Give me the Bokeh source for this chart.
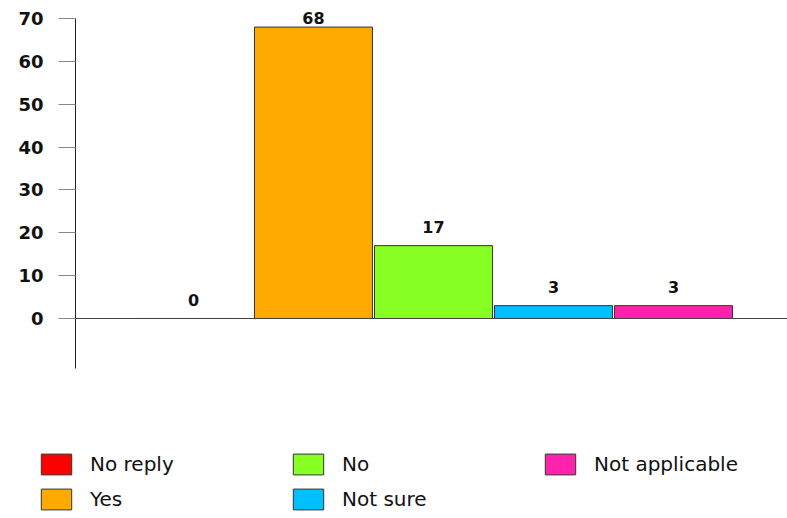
from bokeh.plotting import figure
from bokeh.models import ColumnDataSource, Range1d, FixedTicker, LinearAxis
from bokeh.core.properties import value
from bokeh.embed import file_html
from bokeh.resources import INLINE
import numpy as np

categories = ["No reply", "Yes", "No", "Not sure", "Not applicable"]
counts = [0, 68, 17, 3, 3]
colors = ["#FF0000", "#FFAA00", "#88FF22", "#00BFFF", "#FF22AA"]
y_ticks = [0, 10, 20, 30, 40, 50, 60, 70]

xs = list(range(len(categories)))
vals = np.array(counts, dtype=float)
label_y = np.minimum(vals + 4.4, 70.2)

src = ColumnDataSource(dict(x=xs, top=counts, cat=categories, color=colors,
                            ly=label_y, lbl=[str(c) for c in counts]))

X_AXIS_POS = -0.983
p = figure(width=787, height=518, output_backend="svg", toolbar_location=None,
           x_range=Range1d(-1.608, 4.95), y_range=Range1d(-46.67, 74.2),
           x_axis_location=None, y_axis_location=None,
           min_border_left=0, min_border_right=0, min_border_top=0, min_border_bottom=0)
p.outline_line_color = None
p.grid.visible = False

ax = LinearAxis(fixed_location=X_AXIS_POS, bounds=(-11.67, 70))
ax.ticker = FixedTicker(ticks=y_ticks)
ax.major_tick_out = 17
ax.major_tick_in = 0
ax.minor_tick_line_color = None
ax.major_tick_line_color = "#888888"
ax.axis_line_color = "#222222"
ax.major_label_standoff = 15
ax.major_label_text_font = "DejaVu Sans"
ax.major_label_text_font_style = "bold"
ax.major_label_text_font_size = "18px"
ax.major_label_text_color = "#111111"
p.add_layout(ax, "left")

xax = LinearAxis(fixed_location=0, bounds=(X_AXIS_POS, 4.95))
xax.ticker = FixedTicker(ticks=[])
xax.major_tick_line_color = None
xax.minor_tick_line_color = None
xax.major_label_text_font_size = "0px"
xax.axis_line_color = "#444444"
p.add_layout(xax, "below")

p.vbar(x="x", top="top", bottom=0, width=0.983, source=src, fill_color="color",
       line_color="#333333", line_width=1, legend_field="cat")

p.text(x="x", y="ly", text="lbl", source=src, text_font=value("DejaVu Sans"),
       text_font_style="bold", text_font_size="16px", text_align="center",
       text_baseline="middle", text_color="#111111")

lg = p.legend[0]
lg.orientation = "vertical"
lg.nrows = 2
lg.location = (37, 6)
lg.padding = 0
lg.margin = 0
lg.spacing = 9
lg.border_line_color = None
lg.background_fill_alpha = 0
lg.glyph_width = 38
lg.glyph_height = 26
lg.label_standoff = 15
lg.label_width = 190
lg.label_height = 26
lg.label_text_font = "DejaVu Sans"
lg.label_text_font_size = "20px"
lg.label_text_color = "#111111"

open("out.html", "w").write(file_html(p, INLINE))
